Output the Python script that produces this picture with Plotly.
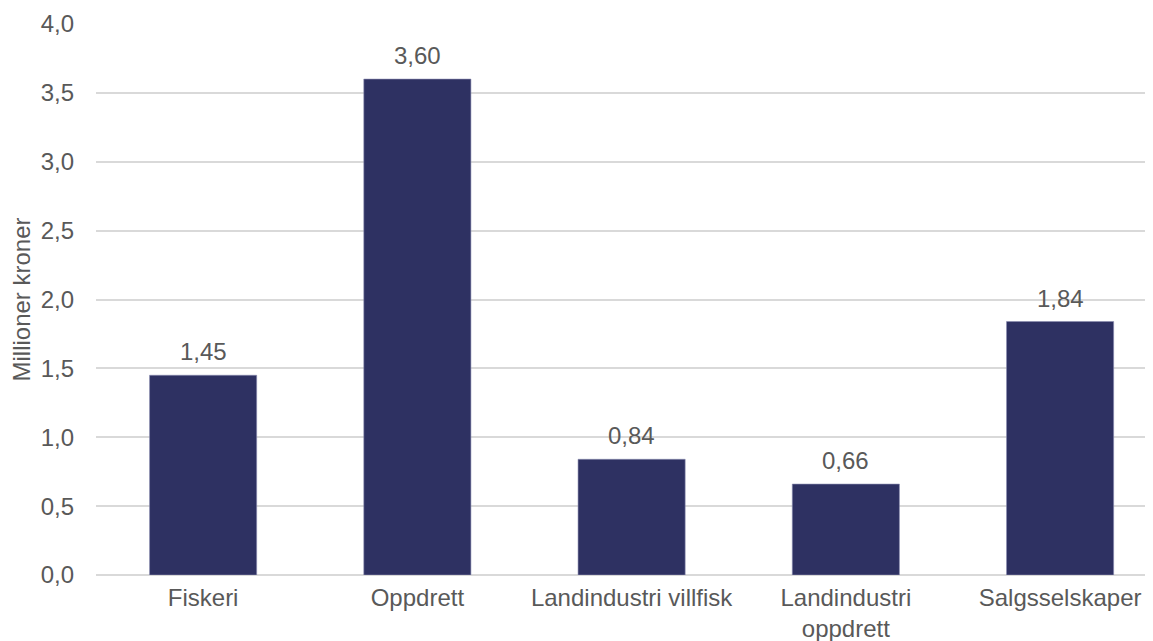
import plotly.graph_objects as go

categories = ["Fiskeri", "Oppdrett", "Landindustri villfisk", "Landindustri<br>oppdrett", "Salgsselskaper"]
values = [1.45, 3.60, 0.84, 0.66, 1.84]
y_ticks = [0.0, 0.5, 1.0, 1.5, 2.0, 2.5, 3.0, 3.5, 4.0]

FONT = "Liberation Sans, Arial, sans-serif"
GREY = "#595959"
xs = list(range(len(categories)))

fig = go.Figure(go.Bar(
    x=xs,
    y=values,
    width=0.5,
    marker=dict(color="#2E3162", line=dict(color="#8A8CB0", width=0.6)),
    hoverinfo="skip",
))

for xi, v in zip(xs, values):
    fig.add_annotation(
        x=xi, y=v, text=f"{v:.2f}".replace(".", ","),
        showarrow=False, yanchor="bottom", yshift=8,
        font=dict(family=FONT, size=24, color=GREY),
    )

fig.update_layout(
    width=1153, height=641,
    margin=dict(l=88, r=0, t=16, b=74),
    plot_bgcolor="white", paper_bgcolor="white",
    separators=", ",
    showlegend=False,
    font=dict(family=FONT, size=24, color=GREY),
    xaxis=dict(
        tickmode="array", tickvals=xs, ticktext=categories,
        range=[-0.5, 4.471], showgrid=False, zeroline=False, showline=False,
        ticks="", ticklabelstandoff=6, tickfont=dict(size=24, color=GREY),
    ),
    yaxis=dict(
        range=[0, 4.0], tickvals=y_ticks, tickformat=".1f",
        showgrid=True, gridcolor="#D9D9D9", gridwidth=1.5,
        zeroline=True, zerolinecolor="#D9D9D9", zerolinewidth=1.5,
        ticks="", ticklabelstandoff=21,
        tickfont=dict(size=24, color=GREY),
        title=dict(text="Millioner kroner", font=dict(size=24, color=GREY), standoff=15),
    ),
)

fig.write_html("out.html")
